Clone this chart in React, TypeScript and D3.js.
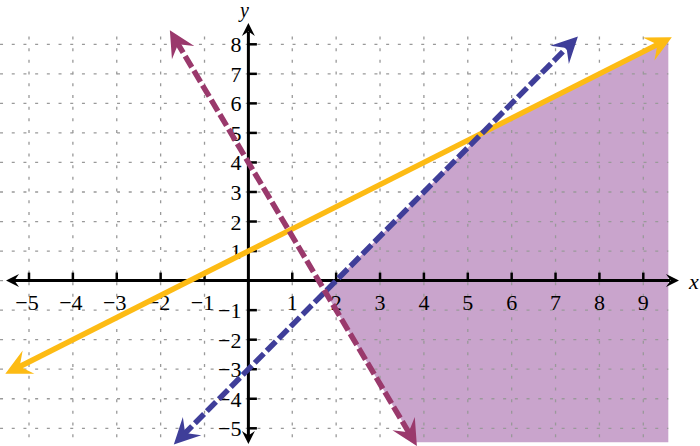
import React from "react";
import * as d3 from "d3";

// tick values (0 is left unlabeled)
const xTicks = [-5, -4, -3, -2, -1, 1, 2, 3, 4, 5, 6, 7, 8, 9];
const yTicks = [-5, -4, -3, -2, -1, 1, 2, 3, 4, 5, 6, 7, 8];
const gridX = [-5, -4, -3, -2, -1, 0, 1, 2, 3, 4, 5, 6, 7, 8, 9];
const gridY = [-5, -4, -3, -2, -1, 0, 1, 2, 3, 4, 5, 6, 7, 8];

// the three boundary lines y = m x + b
const lineNames = ["yellow", "blue", "purple"];
const slopes = [0.75, 1.5, -2.5];
const intercepts = [1, -3, 4];
const xStarts = [-5.54, -1.7, -1.79];
const xEnds = [9.65, 7.51, 3.84];
const lineColors = ["#FDBB14", "#3F3E99", "#9A396C"];
const lineDashed = [false, true, true];

// edges of the shaded feasible region
const regionXMax = 9.57;
const regionYMin = -5.47;

const W = 700;
const H = 446;

const x = d3.scaleLinear().domain([-5, 9]).range([29, 643.3]);
const y = d3.scaleLinear().domain([-5, 8]).range([428.3, 44.3]);

function arrowHead(tx: number, ty: number, ang: number, len: number, wid: number, notch = 0.65) {
  // ang is the direction the arrow points to (in screen coords)
  const c = Math.cos(ang), s = Math.sin(ang);
  const pt = (u: number, v: number) => [tx + u * c - v * s, ty + u * s + v * c];
  const p = [pt(0, 0), pt(-len, -wid / 2), pt(-len * notch, 0), pt(-len, wid / 2)];
  return "M" + p.map((q) => q.join(",")).join("L") + "Z";
}

const fx = (i: number, xv: number) => slopes[i] * xv + intercepts[i];

export default function App() {
  // intersections for the shaded region
  const [Y, B, P] = [0, 1, 2];
  const xBP = (intercepts[P] - intercepts[B]) / (slopes[B] - slopes[P]);
  const xBY = (intercepts[Y] - intercepts[B]) / (slopes[B] - slopes[Y]);
  const xPbot = (regionYMin - intercepts[P]) / slopes[P];
  const region: [number, number][] = [
    [xBP, fx(B, xBP)],
    [xBY, fx(B, xBY)],
    [regionXMax, fx(Y, regionXMax)],
    [regionXMax, regionYMin],
    [xPbot, regionYMin],
  ];
  const regionPath = d3
    .line<[number, number]>()
    .x((d) => x(d[0]))
    .y((d) => y(d[1]))
    .curve(d3.curveLinearClosed)(region);

  const gx0 = -5.66, gx1 = regionXMax;
  const gy0 = -5.8, gy1 = 8.3;

  const zx = x(0), zy = y(0);
  const font = '"Liberation Serif", "DejaVu Serif", serif';

  return (
    <div style={{ position: "absolute", left: 0, top: 0 }}>
      <svg width={W} height={H} style={{ display: "block", background: "#fff" }}>
        <path d={regionPath || ""} fill="#C9A4CC" />

        {/* grid */}
        <g stroke="#999" strokeWidth={1.3} strokeDasharray="3,8.7">
          {gridY.map((v) => (
            <line key={"gy" + v} x1={x(gx0)} x2={x(gx1)} y1={y(v)} y2={y(v)} />
          ))}
          {gridX.map((v) => (
            <line key={"gx" + v} x1={x(v)} x2={x(v)} y1={y(gy1)} y2={y(gy0)} strokeDashoffset={-1} />
          ))}
        </g>

        {/* axes */}
        <g stroke="#000" strokeWidth={3}>
          <line x1={12} x2={670} y1={zy} y2={zy} />
          <line x1={zx} x2={zx} y1={32} y2={436} />
        </g>
        <path d={arrowHead(679, zy, 0, 13, 13)} fill="#000" />
        <path d={arrowHead(6, zy, Math.PI, 13, 13)} fill="#000" />
        <path d={arrowHead(zx, 23, -Math.PI / 2, 13, 13)} fill="#000" />
        <path d={arrowHead(zx, 444, Math.PI / 2, 13, 13)} fill="#000" />

        {/* ticks */}
        <g stroke="#000" strokeWidth={2.5}>
          {xTicks.map((v) => (
            <line key={"tx" + v} x1={x(v)} x2={x(v)} y1={zy - 8} y2={zy} />
          ))}
          {yTicks.map((v) => (
            <line key={"ty" + v} x1={zx} x2={zx + 8.5} y1={y(v)} y2={y(v)} />
          ))}
        </g>

        {/* tick labels */}
        <g style={{ fontFamily: font, fontSize: "22px" }} fill="#000">
          {xTicks.map((v) => (
            <text key={"lx" + v} x={x(v) + (v < 0 ? -2 : 0)} y={zy + 29} textAnchor="middle">
              {v < 0 ? "\u2212" + Math.abs(v) : v}
            </text>
          ))}
          {yTicks.map((v) => (
            <text key={"ly" + v} x={zx - 7} y={y(v) + 8} textAnchor="end">
              {v < 0 ? "\u2212" + Math.abs(v) : v}
            </text>
          ))}
          <text x={689} y={289} fontStyle="italic">x</text>
          <text x={240} y={17} fontStyle="italic" style={{ fontSize: "20px" }}>y</text>
        </g>

        {/* boundary lines */}
        {lineNames.map((name, i) => {
          const ax = x(xStarts[i]), ay = y(fx(i, xStarts[i]));
          const bx = x(xEnds[i]), by = y(fx(i, xEnds[i]));
          const ang = Math.atan2(by - ay, bx - ax);
          const inset = 13;
          const c = Math.cos(ang), s = Math.sin(ang);
          return (
            <g key={name}>
              <line
                x1={ax + c * inset}
                y1={ay + s * inset}
                x2={bx - c * inset}
                y2={by - s * inset}
                stroke={lineColors[i]}
                strokeWidth={5.5}
                strokeDasharray={lineDashed[i] ? "13,4" : undefined}
              />
              <path d={arrowHead(bx, by, ang, 26, 26, 0.62)} fill={lineColors[i]} />
              <path d={arrowHead(ax, ay, ang + Math.PI, 26, 26, 0.62)} fill={lineColors[i]} />
            </g>
          );
        })}
      </svg>
    </div>
  );
}
